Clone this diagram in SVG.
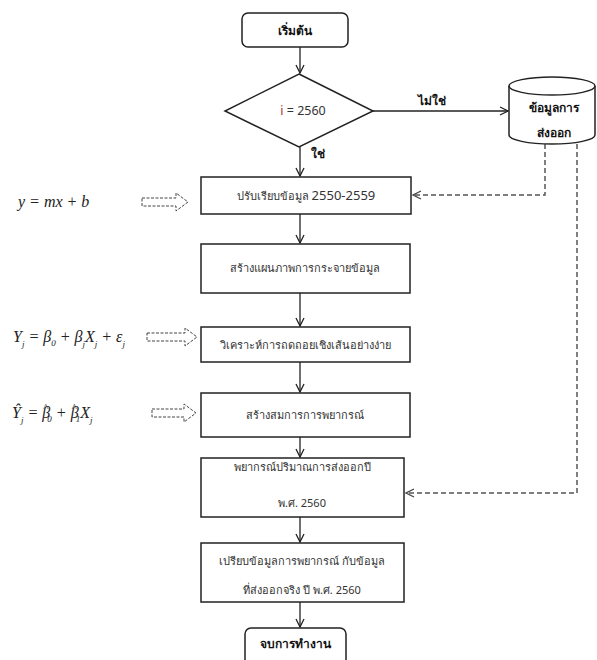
<svg xmlns="http://www.w3.org/2000/svg" width="597" height="660" viewBox="0 0 597 660">
<defs>
<marker id="ah" markerWidth="10" markerHeight="10" refX="9" refY="5" orient="auto" markerUnits="userSpaceOnUse">
<path d="M1,1 L9,5 L1,9" fill="none" stroke="#222" stroke-width="1.3"/>
</marker>
<marker id="ahd" markerWidth="10" markerHeight="10" refX="9" refY="5" orient="auto" markerUnits="userSpaceOnUse">
<path d="M1,1 L9,5 L1,9" fill="none" stroke="#444" stroke-width="1.3"/>
</marker>
<style>
.box{fill:#fff;stroke:#222;stroke-width:1.5}
.t{font-family:"Noto Sans","DejaVu Sans",sans-serif;font-size:11px;fill:#333;text-anchor:middle}
.b{font-weight:bold;font-size:12px;fill:#111}
.big{font-size:12.5px}
.ln{fill:none;stroke:#222;stroke-width:1.3}
.dl{fill:none;stroke:#555;stroke-width:1.5;stroke-dasharray:5,3}
.ha{fill:#fff;stroke:#444;stroke-width:1;stroke-dasharray:3,1.5}
.eq{font-family:"Liberation Serif",serif;font-style:italic;font-size:16px;fill:#222}
.hat{font-size:11px;font-style:normal}
.sub{font-size:9px}
</style>
</defs>
<rect width="597" height="660" fill="#fff"/>

<g id="connectors">
<line class="ln" x1="300" y1="47" x2="300" y2="73" marker-end="url(#ah)"/>
<line class="ln" x1="300" y1="147" x2="300" y2="176" marker-end="url(#ah)"/>
<line class="ln" x1="373" y1="111" x2="508" y2="111" marker-end="url(#ah)"/>
<text class="t b" x="432" y="105">ไม่ใช่</text>
<text class="t b" x="318" y="158">ใช่</text>
<line class="ln" x1="300" y1="214" x2="300" y2="243" marker-end="url(#ah)"/>
<line class="ln" x1="300" y1="293" x2="300" y2="326" marker-end="url(#ah)"/>
<line class="ln" x1="300" y1="362" x2="300" y2="392" marker-end="url(#ah)"/>
<line class="ln" x1="300" y1="437" x2="300" y2="457" marker-end="url(#ah)"/>
<line class="ln" x1="300" y1="517" x2="300" y2="542" marker-end="url(#ah)"/>
<line class="ln" x1="300" y1="602" x2="300" y2="627" marker-end="url(#ah)"/>
<polyline class="dl" points="545,144 545,195 413,195" marker-end="url(#ahd)"/>
<polyline class="dl" points="577,144 577,493 406,493" marker-end="url(#ahd)"/>
<path class="ha" d="M142,198 H176 V193 L188,202 L176,211 V206 H142 Z"/>
<path class="ha" d="M147,333 H185 V328 L197,337 L185,346 V341 H147 Z"/>
<path class="ha" d="M152,409 H184 V404 L196,413 L184,422 V417 H152 Z"/>
</g>

<g id="start">
<rect class="box" x="242" y="13" width="106" height="34" rx="6"/>
<text class="t b" x="295" y="35">เริ่มต้น</text>
</g>

<g id="decision">
<polygon class="box" points="299,74 373,111 299,147 225,111"/>
<text class="t big" x="303" y="115"><tspan fill="#a33">i</tspan> = 2560</text>
</g>

<g id="datastore">
<path class="box" d="M509,86 V135 A43,9 0 0 0 595,135 V86"/>
<ellipse class="box" cx="552" cy="86" rx="43" ry="9"/>
<text class="t b" x="554" y="112">ข้อมูลการ</text>
<text class="t b" x="554" y="137">ส่งออก</text>
</g>

<g id="smooth">
<rect class="box" x="201" y="177" width="210" height="37"/>
<text class="t" x="306" y="200">ปรับเรียบข้อมูล <tspan font-size="13">2550-2559</tspan></text>
</g>

<g id="scatter">
<rect class="box" x="201" y="244" width="209" height="49"/>
<text class="t" x="305" y="272">สร้างแผนภาพการกระจายข้อมูล</text>
</g>

<g id="regression">
<rect class="box" x="201" y="327" width="209" height="35"/>
<text class="t" x="305" y="349">วิเคราะห์การถดถอยเชิงเส้นอย่างง่าย</text>
</g>

<g id="equation">
<rect class="box" x="201" y="393" width="209" height="44"/>
<text class="t" x="305" y="419">สร้างสมการการพยากรณ์</text>
</g>

<g id="forecast">
<rect class="box" x="201" y="458" width="203" height="59"/>
<text class="t" x="302" y="471">พยากรณ์ปริมาณการส่งออกปี</text>
<text class="t" x="302" y="507">พ.ศ. 2560</text>
</g>

<g id="compare">
<rect class="box" x="201" y="543" width="203" height="59"/>
<text class="t" x="302" y="565">เปรียบข้อมูลการพยากรณ์ กับข้อมูล</text>
<text class="t" x="302" y="594">ที่ส่งออกจริง ปี พ.ศ. 2560</text>
</g>

<g id="end">
<rect class="box" x="245" y="628" width="101" height="40" rx="6"/>
<text class="t b" x="295" y="648">จบการทำงาน</text>
</g>

<g id="eq1">
<text class="eq" x="18" y="207">y = mx + b</text>
</g>
<g id="eq2">
<text class="eq" x="13" y="342">Y<tspan class="sub" dy="5">j</tspan><tspan dy="-5"> = β</tspan><tspan class="sub" dy="4">0</tspan><tspan dy="-4"> + β</tspan><tspan class="sub" dy="5">j</tspan><tspan dy="-5">X</tspan><tspan class="sub" dy="5">j</tspan><tspan dy="-5"> + ε</tspan><tspan class="sub" dy="5">j</tspan></text>
</g>
<g id="eq3">
<text class="eq" x="12" y="418">Ŷ<tspan class="sub" dy="5">j</tspan><tspan dy="-5"> = β</tspan><tspan class="hat" dx="-7" dy="-7">^</tspan><tspan class="sub" dx="-1" dy="11">0</tspan><tspan dy="-4"> + β</tspan><tspan class="hat" dx="-7" dy="-7">^</tspan><tspan class="sub" dx="-1" dy="11">1</tspan><tspan dy="-4">X</tspan><tspan class="sub" dy="5">j</tspan></text>
</g>
</svg>
